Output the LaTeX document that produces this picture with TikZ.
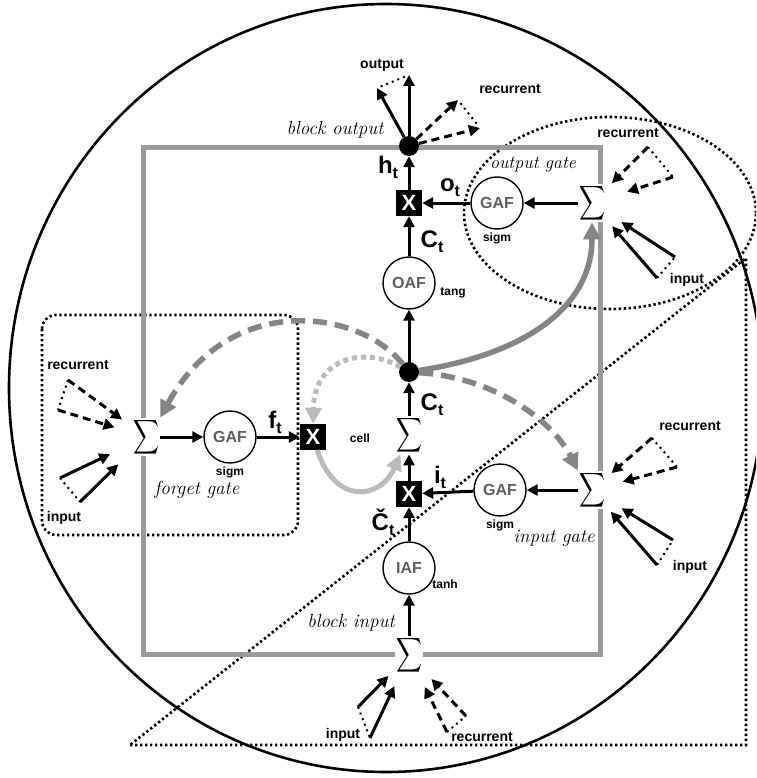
\documentclass[tikz,border=0pt]{standalone}
\usepackage{fontspec}
\setsansfont{Liberation Sans}
\usepackage{amsmath}
\usepackage{tikz}
\usetikzlibrary{arrows.meta,positioning}

\definecolor{BoxGray}{HTML}{9A9A9A}
\definecolor{PeepGray}{HTML}{858585}
\definecolor{PaleGray}{HTML}{BBBBBB}
\definecolor{LetterGray}{HTML}{5E5E5E}

\newcommand{\sumsign}{\scalebox{1.8}[2.4]{$\displaystyle\sum$}}
\newcommand{\gvar}[2]{#1\raisebox{-0.4ex}{\fontsize{16}{16}\selectfont#2}}

\begin{document}
\begin{tikzpicture}[
    x=1pt,y=-1pt,
    lbl/.style={font=\sffamily\bfseries\fontsize{14}{14}\selectfont,inner sep=1pt},
    sub/.style={font=\sffamily\bfseries\fontsize{12}{12}\selectfont,inner sep=1pt},
    var/.style={font=\sffamily\bfseries\fontsize{24}{24}\selectfont,inner sep=0pt},
    region/.style={font=\itshape\fontsize{19}{19}\selectfont,inner sep=0pt},
    actfn/.style={circle,draw,fill=white,line width=1.4pt,minimum size=52pt,inner sep=0pt,
      text=LetterGray,font=\sffamily\bfseries\fontsize{16}{16}\selectfont},
    mult/.style={fill=black,minimum size=26pt,inner sep=0pt,text=white,
      font=\sffamily\bfseries\fontsize{22}{22}\selectfont},
    joint/.style={circle,fill=black,minimum size=20pt,inner sep=0pt},
    sumop/.style={fill=white,minimum width=28pt,minimum height=34pt,inner sep=0pt},
    flow/.style={line width=3pt,-{Triangle[length=11pt,width=11pt]}},
    rflow/.style={flow,dash pattern=on 8pt off 5pt},
    tie/.style={line width=2pt,dash pattern=on 2pt off 4pt},
    fence/.style={line width=2.6pt,dash pattern=on 2.4pt off 2.6pt},
    peep/.style={line width=5.5pt,PeepGray,-{Triangle[length=17pt,width=17pt]}},
    peepdash/.style={peep,dash pattern=on 14pt off 8pt},
    pale/.style={line width=5pt,PaleGray,-{Triangle[length=16pt,width=16pt]}},
  ]
  \useasboundingbox (0,0) rectangle (756,778);
  \clip (0,0) rectangle (756,778);
  \fill[white] (0,0) rectangle (756,778);

  % outline of the cell and the dotted groupings
  \draw[line width=2.6pt] (386,388) ellipse [x radius=377pt, y radius=384pt];
  \draw[fence] (130,745) -- (746,745) -- (746,258) -- cycle;
  \draw[fence] (610,213) ellipse [x radius=146pt, y radius=96pt];
  \draw[fence,rounded corners=14pt] (42,315) rectangle (298,535);
  \draw[BoxGray,line width=5pt] (143,148) rectangle (600,654);

  % memory block
  \node[sumop] (sumB) at (409,655) {\sumsign};
  \node[actfn] (iaf) at (409,568) {IAF};
  \node[mult] (mulI) at (409,494) {X};
  \node[sumop] (sumC) at (409,435) {\sumsign};
  \node[joint] (cellDot) at (409,372) {};
  \node[actfn] (oaf) at (409,283) {OAF};
  \node[mult] (mulO) at (409,203) {X};
  \node[joint] (outDot) at (409,146) {};

  % gates
  \node[sumop] (sumF) at (146,437) {\sumsign};
  \node[actfn] (gafF) at (230,437) {GAF};
  \node[mult] (mulF) at (313,437) {X};
  \node[sumop] (sumIg) at (592,490) {\sumsign};
  \node[actfn] (gafI) at (500,490) {GAF};
  \node[sumop] (sumOg) at (592,203) {\sumsign};
  \node[actfn] (gafO) at (497,203) {GAF};

  \draw[flow] (sumB) -- (iaf);
  \draw[flow] (iaf) -- (mulI);
  \draw[flow] (mulI) -- (sumC);
  \draw[flow] (sumC) -- (cellDot);
  \draw[flow] (cellDot) -- (oaf);
  \draw[flow] (oaf) -- (mulO);
  \draw[flow] (mulO) -- (outDot);
  \draw[flow] (sumF) -- (gafF);
  \draw[flow] (gafF) -- (mulF);
  \draw[flow] (sumIg) -- (gafI);
  \draw[flow] (gafI) -- (mulI);
  \draw[flow] (sumOg) -- (gafO);
  \draw[flow] (gafO) -- (mulO);

  % peepholes and the cell loop
  \draw[peep] (cellDot) .. controls (520,355) and (592,310) .. (sumOg);
  \draw[peepdash] (cellDot) .. controls (500,378) and (555,425) .. (sumIg.north west);
  \draw[peepdash] (cellDot) .. controls (360,310) and (230,290) .. (sumF.north east);
  \draw[pale,dash pattern=on 5pt off 4pt] (cellDot) .. controls (362,345) and (314,360) .. (mulF);
  \draw[pale] (mulF) .. controls (335,505) and (380,500) .. (sumC);

  % block output
  \coordinate (hOut1) at (409,75);
  \coordinate (hOut2) at (377,88);
  \coordinate (hRec1) at (458,100);
  \coordinate (hRec2) at (480,128);
  \draw[flow] (outDot) -- (hOut1);
  \draw[flow] (outDot) -- (hOut2);
  \draw[tie,shorten <=4pt,shorten >=4pt] (hOut2) -- (hOut1);
  \draw[rflow] (outDot) -- (hRec1);
  \draw[rflow] (outDot) -- (hRec2);
  \draw[tie,shorten <=4pt,shorten >=4pt] (hRec1) -- (hRec2);

  % forget gate inputs
  \coordinate (fRec1) at (68,380);
  \coordinate (fRec2) at (58,410);
  \coordinate (fIn1) at (60,478);
  \coordinate (fIn2) at (80,502);
  \draw[rflow,shorten >=12pt] (fRec1) -- (sumF);
  \draw[rflow,shorten >=18pt] (fRec2) -- (sumF);
  \draw[tie] (fRec1) -- (fRec2);
  \draw[flow,shorten >=24pt] (fIn1) -- (sumF);
  \draw[flow,shorten >=19pt] (fIn2) -- (sumF);
  \draw[tie] (fIn1) -- (fIn2);

  % input gate inputs
  \coordinate (iRec1) at (652,438);
  \coordinate (iRec2) at (677,467);
  \coordinate (iIn1) at (657,565);
  \coordinate (iIn2) at (673,540);
  \draw[rflow,shorten >=7pt] (iRec1) -- (sumIg);
  \draw[rflow,shorten >=17pt] (iRec2) -- (sumIg);
  \draw[tie] (iRec1) -- (iRec2);
  \draw[flow,shorten >=7pt] (iIn1) -- (sumIg);
  \draw[flow,shorten >=18pt] (iIn2) -- (sumIg);
  \draw[tie] (iIn1) -- (iIn2);

  % output gate inputs
  \coordinate (oRec1) at (648,147);
  \coordinate (oRec2) at (673,177);
  \coordinate (oIn1) at (657,278);
  \coordinate (oIn2) at (675,257);
  \draw[rflow,shorten >=8pt] (oRec1) -- (sumOg);
  \draw[rflow,shorten >=22pt] (oRec2) -- (sumOg);
  \draw[tie] (oRec1) -- (oRec2);
  \draw[flow,shorten >=9pt] (oIn1) -- (sumOg);
  \draw[flow,shorten >=18pt] (oIn2) -- (sumOg);
  \draw[tie] (oIn1) -- (oIn2);

  % block inputs
  \coordinate (bIn1) at (358,707);
  \coordinate (bIn2) at (370,738);
  \coordinate (bRec1) at (447,732);
  \coordinate (bRec2) at (466,716);
  \draw[flow,shorten >=9pt] (bIn1) -- (sumB);
  \draw[flow,shorten >=13pt] (bIn2) -- (sumB);
  \draw[tie] (bIn1) -- (bIn2);
  \draw[rflow,shorten >=14pt] (bRec1) -- (sumB);
  \draw[rflow,shorten >=12pt] (bRec2) -- (sumB);
  \draw[tie] (bRec1) -- (bRec2);

  % labels
  \node[lbl] (outLab) at (382,65) {output};
  \node[lbl] (hRecLab) at (510,89) {recurrent};
  \node[region] (blockOut) at (335,130) {block output};
  \node[var] (hLab) at (388,167) {\gvar{h}{t}};
  \node[var] (oLab) at (450,188) {\gvar{o}{t}};
  \node[region,font=\itshape\fontsize{18}{18}\selectfont] (outGate) at (533,165) {output gate};
  \node[lbl] (oRecLab) at (628,133) {recurrent};
  \node[lbl] (oInLab) at (687,280) {input};
  \node[sub,below=2pt of gafO] (sigmO) {sigm};
  \node[var] (cLabO) at (432,242) {\gvar{C}{t}};
  \node[sub] (tangLab) at (453,293) {tang};

  \node[lbl] (fRecLab) at (78,365) {recurrent};
  \node[lbl] (fInLab) at (64,518) {input};
  \node[sub,below=2pt of gafF] (sigmF) {sigm};
  \node[var] (fLab) at (275,422) {\gvar{f}{t}};
  \node[region] (forgetGate) at (197,490) {forget gate};
  \node[sub] (cellLab) at (360,438) {cell};
  \node[var] (cLab) at (432,405) {\gvar{C}{t}};

  \node[var] (iLab) at (440,477) {\gvar{i}{t}};
  \node[var] (cTilde) at (383,522) {\gvar{Č}{t}};
  \node[sub,below=2pt of gafI] (sigmI) {sigm};
  \node[region] (inGate) at (554,538) {input gate};
  \node[lbl] (iRecLab) at (690,426) {recurrent};
  \node[lbl] (iInLab) at (690,567) {input};
  \node[sub] (tanhLab) at (445,584) {tanh};

  \node[region] (blockIn) at (351,623) {block input};
  \node[lbl] (bInLab) at (343,735) {input};
  \node[lbl] (bRecLab) at (482,737) {recurrent};
\end{tikzpicture}
\end{document}
